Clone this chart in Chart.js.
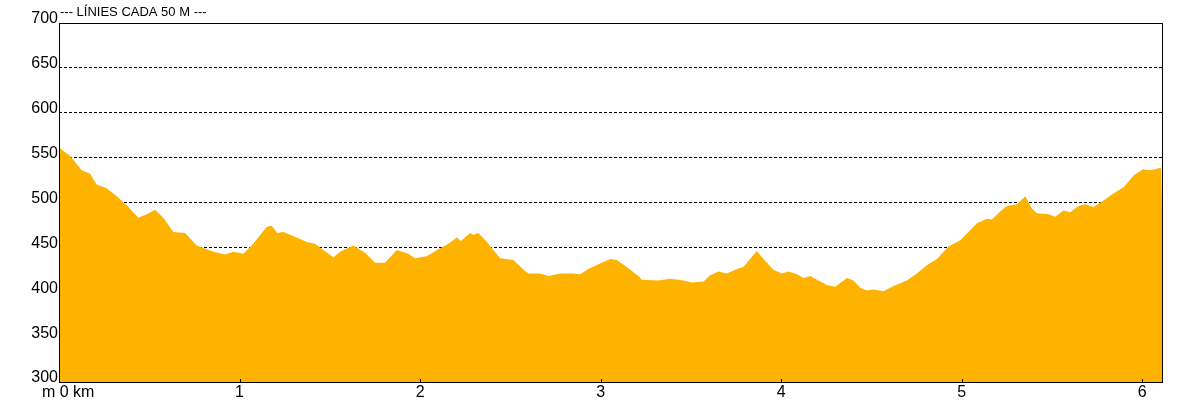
<!DOCTYPE html>
<html>
<head>
<meta charset="utf-8">
<script src="https://cdn.jsdelivr.net/npm/chart.js@4"></script>
<style>
  html, body { margin: 0; padding: 0; background: #fff; }
  #wrap { width: 1192px; height: 402px; }
</style>
</head>
<body>
<div id="wrap"><canvas id="perfil" width="1192" height="402"></canvas></div>
<script>
// Perfil d'elevació: distància (km) i alçada (m)
const distancies = [
  0.000, 0.061, 0.098, 0.126, 0.172, 0.209, 0.264, 0.320, 0.375, 0.439,
  0.486, 0.532, 0.578, 0.633, 0.698, 0.763, 0.855, 0.920, 0.966, 1.021,
  1.076, 1.151, 1.178, 1.209, 1.243, 1.317, 1.372, 1.418, 1.464, 1.520,
  1.557, 1.630, 1.695, 1.751, 1.806, 1.871, 1.935, 1.972, 2.037, 2.111,
  2.157, 2.203, 2.226, 2.277, 2.295, 2.323, 2.370, 2.443, 2.517, 2.563,
  2.600, 2.665, 2.711, 2.776, 2.849, 2.886, 2.932, 2.997, 3.053, 3.090,
  3.145, 3.209, 3.228, 3.320, 3.385, 3.459, 3.505, 3.570, 3.607, 3.653,
  3.699, 3.755, 3.791, 3.828, 3.865, 3.902, 3.957, 4.004, 4.040, 4.087,
  4.124, 4.161, 4.198, 4.253, 4.299, 4.364, 4.400, 4.438, 4.475, 4.511,
  4.567, 4.622, 4.696, 4.752, 4.807, 4.863, 4.927, 4.992, 5.047, 5.084,
  5.140, 5.167, 5.213, 5.250, 5.306, 5.352, 5.389, 5.417, 5.481, 5.518,
  5.564, 5.601, 5.647, 5.684, 5.730, 5.777, 5.841, 5.897, 5.952, 6.004,
  6.036, 6.072, 6.105, 6.112
];
const alcades = [
  561, 552, 543, 536, 532, 520, 516, 507, 497, 483,
  487, 492, 483, 467, 466, 452, 445, 442, 445, 443,
  454, 473, 474, 466, 467, 461, 456, 454, 447, 439,
  445, 452, 444, 433, 433, 447, 443, 438, 440, 449,
  454, 461, 457, 466, 464, 466, 456, 438, 436, 427,
  421, 421, 418, 421, 421, 420, 426, 432, 437, 436,
  428, 418, 414, 413, 415, 413, 411, 412, 419, 423,
  421, 426, 428, 437, 446, 437, 425, 421, 423, 420,
  416, 418, 414, 408, 406, 416, 413, 405, 402, 403,
  401, 407, 413, 421, 430, 437, 451, 458, 469, 477,
  482, 481, 490, 496, 498, 507, 493, 488, 487, 484,
  491, 489, 496, 498, 495, 501, 510, 517, 530, 537,
  536, 537, 539, 479
];
const ticksKm = [1, 2, 3, 4, 5, 6];
const ticksAlcada = [300, 350, 400, 450, 500, 550, 600, 650, 700];

const titol = '--- LÍNIES CADA 50 M ---';
const etiquetaOrigen = 'm 0 km';

const FONT = 'Arial, "Liberation Sans", sans-serif';

// textos i marques fora del que dibuixa Chart.js
const extres = {
  id: 'extres',
  afterDraw(chart) {
    const { ctx, chartArea: a, scales } = chart;
    ctx.save();
    // marc
    ctx.strokeStyle = '#000';
    ctx.lineWidth = 1;
    ctx.strokeRect(a.left + 0.5, a.top + 0.5, a.right - a.left - 1, a.bottom - a.top);
    // marques petites dels km
    ctx.beginPath();
    ticksKm.forEach(k => {
      const x = Math.round(scales.x.getPixelForValue(k)) + 0.5;
      ctx.moveTo(x, a.bottom);
      ctx.lineTo(x, a.bottom - 3);
    });
    ctx.stroke();
    // títol
    ctx.fillStyle = '#000';
    ctx.font = '13px ' + FONT;
    ctx.textAlign = 'left';
    ctx.textBaseline = 'middle';
    ctx.fillText(titol, 60, 12);
    // etiqueta d'origen
    ctx.font = '16px ' + FONT;
    ctx.textBaseline = 'top';
    ctx.fillText(etiquetaOrigen, 42, 385);
    ctx.restore();
  }
};

const punts = distancies.map((d, i) => ({ x: d, y: alcades[i] }));

new Chart(document.getElementById('perfil'), {
  type: 'line',
  data: {
    datasets: [{
      data: punts,
      borderWidth: 0,
      borderColor: 'rgba(0,0,0,0)',
      backgroundColor: '#FEB300',
      fill: 'start',
      pointRadius: 0,
      tension: 0
    }]
  },
  options: {
    responsive: false,
    animation: false,
    events: [],
    layout: { padding: { left: 0, top: 23, right: 29, bottom: 0 } },
    plugins: { legend: { display: false }, tooltip: { enabled: false } },
    scales: {
      x: {
        type: 'linear',
        min: 0,
        max: 6.115,
        afterBuildTicks: s => { s.ticks = ticksKm.map(v => ({ value: v })); },
        afterFit: s => { s.height = 20; },
        grid: { display: false, drawTicks: false },
        border: { display: false },
        ticks: {
          color: '#000',
          padding: 1,
          maxRotation: 0,
          autoSkip: false,
          font: { family: FONT, size: 16 }
        }
      },
      y: {
        min: 300,
        max: 700,
        z: 1,
        afterBuildTicks: s => { s.ticks = ticksAlcada.map(v => ({ value: v })); },
        afterFit: s => { s.width = 59; },
        grid: {
          drawTicks: false,
          lineWidth: 1,
          color: c => (c.tick && (c.tick.value === 300 || c.tick.value === 700)) ? 'rgba(0,0,0,0)' : '#000'
        },
        border: { display: false, dash: [3, 2] },
        ticks: {
          color: '#000',
          padding: 1,
          labelOffset: -4,
          autoSkip: false,
          font: { family: FONT, size: 16 }
        }
      }
    }
  },
  plugins: [extres]
});
</script>
</body>
</html>
